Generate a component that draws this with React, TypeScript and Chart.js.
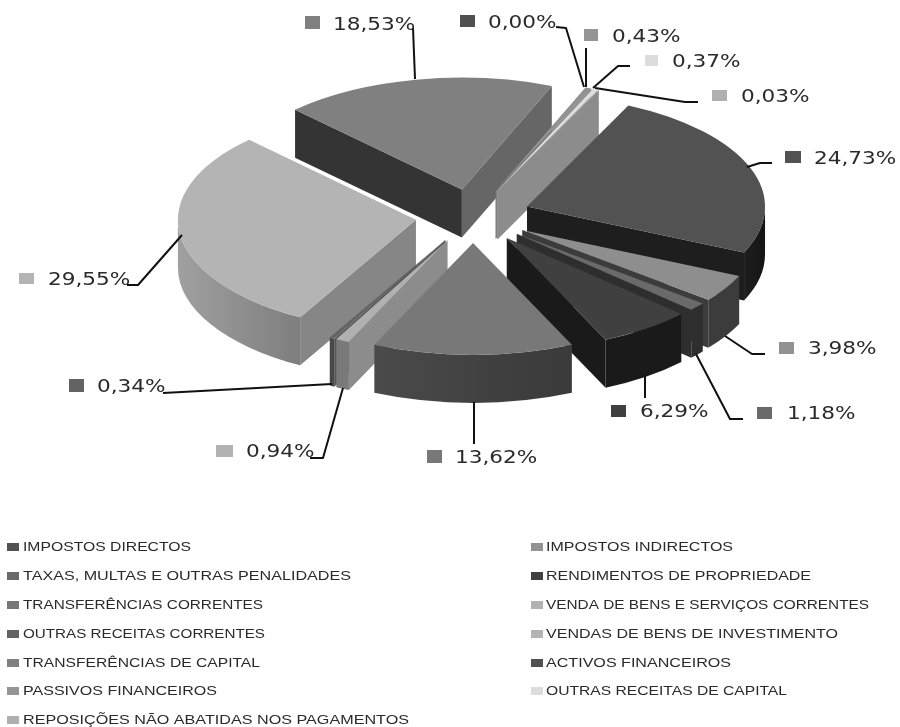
import React, { useEffect, useRef } from "react";
import { Chart, registerables } from "chart.js";

Chart.register(...registerables);

// ---- data ----
const categories = [
  "IMPOSTOS DIRECTOS",
  "IMPOSTOS INDIRECTOS",
  "TAXAS, MULTAS E OUTRAS PENALIDADES",
  "RENDIMENTOS DE PROPRIEDADE",
  "TRANSFERÊNCIAS CORRENTES",
  "VENDA DE BENS E SERVIÇOS CORRENTES",
  "OUTRAS RECEITAS CORRENTES",
  "VENDAS DE BENS DE INVESTIMENTO",
  "TRANSFERÊNCIAS DE CAPITAL",
  "ACTIVOS FINANCEIROS",
  "PASSIVOS FINANCEIROS",
  "OUTRAS RECEITAS DE CAPITAL",
  "REPOSIÇÕES NÃO ABATIDAS NOS PAGAMENTOS",
];
const shares = [24.73, 3.98, 1.18, 6.29, 13.62, 0.94, 0.34, 29.55, 18.53, 0.0, 0.43, 0.37, 0.03];

// ---- styles ----
const topColors = ["#525252", "#8e8e8e", "#6a6a6a", "#404040", "#787878", "#b0b0b0", "#636363", "#b4b4b4", "#808080", "#505050", "#919191", "#dddddd", "#b0b0b0"];
const swatchColors = ["#525252", "#929292", "#6a6a6a", "#404040", "#787878", "#b2b2b2", "#636363", "#b4b4b4", "#808080", "#505050", "#959595", "#dcdcdc", "#b0b0b0"];
const startFaceColors = ["#1e1e1e", "#3c3c3c", "#2e2e2e", "#1a1a1a", "#353535", "#8c8c8c", "#555555", "#868686", "#343434", "#555555", "#777777", "#999999", "#8a8a8a"];
const endFaceColors = ["#1e1e1e", "#3c3c3c", "#2e2e2e", "#1a1a1a", "#353535", "#8c8c8c", "#555555", "#868686", "#666666", "#666666", "#777777", "#999999", "#8c8c8c"];
const wallFrom = ["#1e1e1e", "#3c3c3c", "#2e2e2e", "#1a1a1a", "#4a4a4a", "#7a7a7a", "#484848", "#a0a0a0", "#343434", "#555555", "#777777", "#999999", "#8a8a8a"];
const wallTo = ["#141414", "#3c3c3c", "#2e2e2e", "#1a1a1a", "#3a3a3a", "#7a7a7a", "#484848", "#7e7e7e", "#343434", "#555555", "#777777", "#999999", "#8a8a8a"];

// ---- layout ----
const W = 900;
const H = 727;
const CX = 473;
const CY = 216;
const RADIUS = 238;
const TILT = 0.47;
const EXPLODE = 57.6;
const DEPTH = 48;
const ROTATION = 25.2;

// [swatch x, swatch y, swatch w, swatch h, text x, text centre y] per slice
const labelBoxes = [
  [785, 151, 16, 12, 814, 158],
  [779, 342, 15, 12, 808, 348],
  [757, 407, 15, 12, 787, 413],
  [611, 405, 15, 12, 640, 411],
  [427, 450, 15, 13, 455, 457],
  [216, 445, 17, 12, 246, 451],
  [69, 379, 15, 13, 97, 386],
  [19, 273, 15, 11, 48, 279],
  [305, 16, 15, 13, 333, 24],
  [460, 15, 15, 12, 488, 22],
  [584, 29, 14, 12, 612, 36],
  [645, 55, 13, 11, 672, 61],
  [712, 90, 15, 11, 741, 96],
];
const leaderPaths = [
  [[747, 167], [760, 163], [772, 163]],
  [[725, 336], [752, 354], [765, 354]],
  [[696, 354], [730, 419], [743, 419]],
  [[645, 375], [645, 398]],
  [[474, 402], [474, 444]],
  [[343, 388], [323, 458], [310, 458]],
  [[332, 384], [163, 393]],
  [[182, 235], [138, 285], [127, 285]],
  [[415, 79], [413, 28]],
  [[584, 87], [566, 28], [556, 27]],
  [[586, 87], [586, 48]],
  [[593, 88], [618, 66], [630, 66]],
  [[595, 88], [685, 102], [698, 102]],
];
const legendRows = [547, 576, 605, 634, 663, 691, 720];
const legendColumns = [7, 531];
const legendTextStart = [23, 546];
const legendTextEnd = [191, 733, 351, 811, 263, 869, 265, 838, 260, 731, 217, 787, 409];

const depthPlugin = {
  id: "depthPie",
  beforeDatasetDraw(chart: any) {
    const ctx: CanvasRenderingContext2D = chart.ctx;
    const arcs: any[] = chart.getDatasetMeta(0).data;
    const parts = arcs.map((arc, i) => {
      const mid = (arc.startAngle + arc.endAngle) / 2;
      const x = arc.x + EXPLODE * Math.cos(mid);
      const y = arc.y + TILT * EXPLODE * Math.sin(mid);
      return { arc, i, mid, x, y, order: y + 0.5 * TILT * arc.outerRadius * Math.sin(mid) };
    });

    // side walls, back to front
    const sorted = [...parts].sort((a, b) => a.order - b.order);
    for (const { arc, i, x, y } of sorted) {
      if (arc.endAngle - arc.startAngle <= 0) continue;
      const R = arc.outerRadius;
      const face = (t: number, color: string) => {
        const ex = x + R * Math.cos(t);
        const ey = y + TILT * R * Math.sin(t);
        ctx.fillStyle = color;
        ctx.beginPath();
        ctx.moveTo(x, y);
        ctx.lineTo(ex, ey);
        ctx.lineTo(ex, ey + DEPTH);
        ctx.lineTo(x, y + DEPTH);
        ctx.closePath();
        ctx.fill();
      };
      if (-Math.cos(arc.startAngle) > 0) face(arc.startAngle, startFaceColors[i]);
      if (Math.cos(arc.endAngle) > 0) face(arc.endAngle, endFaceColors[i]);
      for (let k = -1; k <= 1; k++) {
        const a = Math.max(arc.startAngle, 2 * Math.PI * k);
        const b = Math.min(arc.endAngle, 2 * Math.PI * k + Math.PI);
        if (b <= a) continue;
        const xa = x + R * Math.cos(a);
        const xb = x + R * Math.cos(b);
        const grad = ctx.createLinearGradient(Math.min(xa, xb), 0, Math.max(xa, xb) + 0.01, 0);
        grad.addColorStop(0, wallFrom[i]);
        grad.addColorStop(1, wallTo[i]);
        ctx.fillStyle = grad;
        ctx.beginPath();
        ctx.ellipse(x, y, R, TILT * R, 0, a, b, false);
        ctx.ellipse(x, y + DEPTH, R, TILT * R, 0, b, a, true);
        ctx.closePath();
        ctx.fill();
      }
    }

    // top faces, drawn by the library's own arc elements
    for (const { arc, x, y } of parts) {
      ctx.save();
      ctx.translate(x, y);
      ctx.scale(1, TILT);
      ctx.translate(-arc.x, -arc.y);
      arc.draw(ctx);
      ctx.restore();
    }
    return false;
  },
  afterDraw(chart: any) {
    const ctx: CanvasRenderingContext2D = chart.ctx;
    ctx.save();

    // leader lines
    ctx.strokeStyle = "#111111";
    ctx.lineWidth = 2;
    ctx.lineJoin = "round";
    for (const path of leaderPaths) {
      ctx.beginPath();
      path.forEach(([x, y], j) => (j ? ctx.lineTo(x, y) : ctx.moveTo(x, y)));
      ctx.stroke();
    }

    // percentage labels
    ctx.textBaseline = "middle";
    ctx.textAlign = "left";
    shares.forEach((v, i) => {
      const [sx, sy, sw, sh, tx, ty] = labelBoxes[i];
      ctx.fillStyle = swatchColors[i];
      ctx.fillRect(sx, sy, sw, sh);
      ctx.save();
      ctx.translate(tx, ty);
      ctx.scale(1.2, 1);
      ctx.font = '18px "DejaVu Sans"';
      ctx.fillStyle = "#2a2a2a";
      ctx.fillText(v.toFixed(2).replace(".", ",") + "%", 0, 1);
      ctx.restore();
    });

    // legend, two columns, each name fitted to the width it has in the picture
    categories.forEach((name, i) => {
      const col = i % 2;
      const x = legendColumns[col];
      const y = legendRows[Math.floor(i / 2)];
      ctx.fillStyle = swatchColors[i];
      ctx.fillRect(x, y - 4, 12, 8);
      ctx.save();
      ctx.font = '13px "Liberation Sans"';
      const natural = ctx.measureText(name).width;
      ctx.translate(legendTextStart[col], y);
      ctx.scale((legendTextEnd[i] - legendTextStart[col]) / natural, 1);
      ctx.fillStyle = "#2a2a2a";
      ctx.fillText(name, 0, 0.5);
      ctx.restore();
    });
    ctx.restore();
  },
};

export default function App() {
  const ref = useRef<HTMLCanvasElement>(null);
  useEffect(() => {
    const chart = new Chart(ref.current as HTMLCanvasElement, {
      type: "pie",
      data: {
        labels: categories,
        datasets: [{ data: shares, backgroundColor: topColors, borderWidth: 0 }],
      },
      options: {
        animation: false,
        responsive: false,
        rotation: ROTATION,
        radius: RADIUS,
        layout: {
          padding: { left: 2 * CX - W, top: 0, right: 0, bottom: H - 2 * CY },
        },
        plugins: { legend: { display: false }, tooltip: { enabled: false } },
      } as any,
      plugins: [depthPlugin as any],
    });
    return () => chart.destroy();
  }, []);
  return (
    <div style={{ position: "absolute", left: 0, top: 0, width: W, height: H, background: "#fff" }}>
      <canvas ref={ref} width={W} height={H} style={{ display: "block" }} />
    </div>
  );
}
